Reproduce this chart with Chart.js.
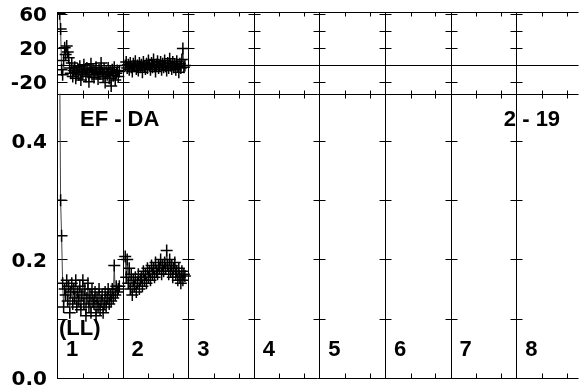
<!DOCTYPE html>
<html>
<head>
<meta charset="utf-8">
<script src="https://cdn.jsdelivr.net/npm/chart.js@4.4.1/dist/chart.umd.min.js"></script>
<style>
  body { margin: 0; background: #fff; }
  canvas { display: block; }
</style>
</head>
<body>
<canvas id="myChart" width="584" height="390"></canvas>
<script>
// segment numbers shown along the bottom
const segments = ['1', '2', '3', '4', '5', '6', '7', '8'];

// sample positions inside a segment (0..1)
const sampleOffsets = [
    0.040, 0.055, 0.070, 0.086, 0.101, 0.117, 0.132, 0.148, 0.163, 0.178,
    0.194, 0.209, 0.225, 0.240, 0.256, 0.271, 0.286, 0.302, 0.317, 0.333,
    0.348, 0.364, 0.379, 0.394, 0.410, 0.425, 0.441, 0.456, 0.472, 0.487,
    0.502, 0.518, 0.533, 0.549, 0.564, 0.580, 0.595, 0.610, 0.626, 0.641,
    0.657, 0.672, 0.688, 0.703, 0.718, 0.734, 0.749, 0.765, 0.780, 0.796,
    0.811, 0.826, 0.842, 0.857, 0.873, 0.888, 0.904, 0.919, 0.934, 0.950];

// upper panel
const topSeg1 = [
    60, 42, -6, -12, 5, 20, 12, 22, 15, 8,
    -4, -10, 2, -14, -7, -3, -16, -9, -5, -12,
    -2, -18, -8, -11, 0, -6, -14, -4, -9, -20,
    -7, 1, -12, -5, -15, -8, -3, -10, -17, -6,
    -11, 2, -9, -14, -5, -21, -8, -12, -4, -16,
    -9, -25, -6, -13, -3, -18, -10, -7, -14, -8];
const topSeg2 = [
    -1, 3, -4, 0, -6, 2, -3, -8, 1, -2,
    4, -5, -1, -7, 2, -3, 0, -9, 3, -2,
    -5, 1, -4, 5, -1, -6, 2, -3, 6, -2,
    -8, 0, 4, -4, -1, 3, -6, 1, -3, 5,
    -2, -7, 2, -4, 7, -1, -5, 3, -3, 0,
    -6, 4, -2, -9, 1, -4, 6, 19, -3, -1];

// lower panel
const botSeg1 = [
    0.55, 0.30, 0.24, 0.16, 0.12, 0.15, 0.14, 0.165, 0.13, 0.155,
    0.11, 0.145, 0.16, 0.125, 0.15, 0.135, 0.165, 0.12, 0.145, 0.13,
    0.155, 0.115, 0.14, 0.165, 0.125, 0.15, 0.105, 0.135, 0.16, 0.12,
    0.14, 0.11, 0.15, 0.13, 0.125, 0.145, 0.105, 0.135, 0.12, 0.15,
    0.115, 0.13, 0.14, 0.11, 0.125, 0.145, 0.12, 0.135, 0.15, 0.125,
    0.14, 0.13, 0.15, 0.135, 0.19, 0.14, 0.155, 0.145, 0.15, 0.155];
const botSeg2 = [
    0.205, 0.17, 0.2, 0.16, 0.185, 0.15, 0.175, 0.14, 0.165, 0.155,
    0.17, 0.145, 0.16, 0.175, 0.15, 0.165, 0.17, 0.155, 0.18, 0.165,
    0.175, 0.16, 0.185, 0.17, 0.18, 0.165, 0.19, 0.175, 0.185, 0.17,
    0.195, 0.18, 0.175, 0.19, 0.185, 0.2, 0.175, 0.19, 0.18, 0.195,
    0.185, 0.215, 0.19, 0.175, 0.2, 0.18, 0.19, 0.17, 0.185, 0.195,
    0.175, 0.18, 0.165, 0.185, 0.17, 0.16, 0.18, 0.165, 0.175, 0.172];

// tick labels and tick marks
const topTickLabels = [-20, 20, 60];
const topTickMarks = [-20, 0, 20, 40, 60];
const botTickLabels = [0, 0.2, 0.4];
const botTickMarks = [0.1, 0.2, 0.3, 0.4];
const xMinorTicks = [0.39, 0.77];

const labelFont = 'bold 22px "Liberation Sans", Arial, sans-serif';

function toPoints(seg, values) {
    return values.map((v, i) => ({ x: seg + sampleOffsets[i], y: v }));
}

function serie(seg, values, axis) {
    return {
        data: toPoints(seg, values),
        yAxisID: axis,
        showLine: true,
        borderColor: '#444',
        borderWidth: 1,
        pointStyle: 'cross',
        pointRadius: 6,
        pointBorderColor: '#000',
        pointBorderWidth: 1.5
    };
}

const crisp = v => Math.round(v) + 0.5;

// frame, segment lines, zero line and tick marks
const panelFrame = {
    id: 'panelFrame',
    beforeDatasetsDraw(chart) {
        const { ctx, chartArea } = chart;
        const x = chart.scales.x, yTop = chart.scales.yTop, yBot = chart.scales.yBot;
        const left = chartArea.left, right = chartArea.right + 2;
        const top = crisp(yTop.top), mid = crisp(yTop.bottom), bot = crisp(yBot.bottom);
        ctx.save();
        ctx.strokeStyle = '#000';
        ctx.lineWidth = 1;
        ctx.beginPath();
        [top, mid, bot].forEach(py => { ctx.moveTo(left, py); ctx.lineTo(right, py); });
        const z = crisp(yTop.getPixelForValue(0));
        ctx.moveTo(left, z); ctx.lineTo(right, z);

        for (let i = 0; i < segments.length; i++) {
            const px = crisp(x.getPixelForValue(i));
            if (px > chartArea.right) continue;
            ctx.moveTo(px, top); ctx.lineTo(px, bot);
            const a = i === 0 ? 0 : -6, b = i === 0 ? 10 : 6;
            topTickMarks.forEach(v => {
                const py = crisp(yTop.getPixelForValue(v));
                ctx.moveTo(px + a, py); ctx.lineTo(px + b, py);
            });
            botTickMarks.forEach(v => {
                const py = crisp(yBot.getPixelForValue(v));
                ctx.moveTo(px + a, py); ctx.lineTo(px + b, py);
            });
            xMinorTicks.forEach(o => {
                const tx = crisp(x.getPixelForValue(i + o));
                if (tx > chartArea.right) return;
                ctx.moveTo(tx, top); ctx.lineTo(tx, top + 4);
                ctx.moveTo(tx, mid - 4); ctx.lineTo(tx, mid + 4);
                ctx.moveTo(tx, bot); ctx.lineTo(tx, bot - 5);
            });
        }
        ctx.stroke();
        ctx.restore();
    },
    beforeDatasetDraw(chart, args) {
        const { ctx, chartArea } = chart;
        const ys = args.meta.yScale;
        ctx.save();
        ctx.beginPath();
        ctx.rect(chartArea.left, ys.top, chartArea.width + 2, ys.bottom - ys.top);
        ctx.clip();
    },
    afterDatasetDraw(chart) {
        chart.ctx.restore();
    },
    afterDatasetsDraw(chart) {
        const { ctx } = chart;
        const x = chart.scales.x, yBot = chart.scales.yBot;
        ctx.save();
        ctx.fillStyle = '#000';
        ctx.font = labelFont;
        ctx.textBaseline = 'alphabetic';
        ctx.textAlign = 'left';
        segments.forEach((s, i) => {
            ctx.fillText(s, x.getPixelForValue(i) + 9, yBot.getPixelForValue(0.037));
        });
        ctx.fillText('(LL)', x.getPixelForValue(0.03), yBot.getPixelForValue(0.072));
        ctx.fillText('EF - DA', x.getPixelForValue(0.35), yBot.getPixelForValue(0.426));
        ctx.textAlign = 'right';
        ctx.fillText('2 - 19', x.getPixelForValue(7.67), yBot.getPixelForValue(0.426));
        ctx.restore();
    }
};

const tickFont = { family: '"DejaVu Sans", sans-serif', size: 20, weight: 'bold' };
// invisible tick length keeps the labels 10px off the axis without extra padding
const hiddenGrid = { drawOnChartArea: false, drawTicks: true, tickLength: 10, color: 'rgba(0,0,0,0)' };

new Chart(document.getElementById('myChart'), {
    type: 'scatter',
    data: {
        datasets: [
            serie(0, topSeg1, 'yTop'),
            serie(1, topSeg2, 'yTop'),
            serie(0, botSeg1, 'yBot'),
            serie(1, botSeg2, 'yBot')
        ]
    },
    options: {
        responsive: false,
        animation: false,
        layout: { padding: { top: 11, bottom: 11, left: 0, right: 0 } },
        plugins: {
            legend: { display: false },
            tooltip: { enabled: false }
        },
        scales: {
            x: { type: 'linear', min: 0, max: 7.92, display: false },
            // stacked axes are placed bottom-up, so the lower panel comes first
            yBot: {
                type: 'linear', position: 'left', stack: 'panels', stackWeight: 286,
                min: 0, max: 0.48,
                grid: hiddenGrid, border: { display: false },
                afterBuildTicks: s => { s.ticks = botTickLabels.map(v => ({ value: v })); },
                afterFit: s => { s.width = 57; },
                ticks: { color: '#000', font: tickFont, padding: 0, labelOffset: 2, autoSkip: false, callback: v => Number(v).toFixed(1) }
            },
            yTop: {
                type: 'linear', position: 'left', stack: 'panels', stackWeight: 82,
                min: -34, max: 62,
                grid: hiddenGrid, border: { display: false },
                afterBuildTicks: s => { s.ticks = topTickLabels.map(v => ({ value: v })); },
                afterFit: s => { s.width = 57; },
                ticks: { color: '#000', font: tickFont, padding: 0, labelOffset: 2, autoSkip: false, callback: v => String(v) }
            }
        }
    },
    plugins: [panelFrame]
});
</script>
</body>
</html>
